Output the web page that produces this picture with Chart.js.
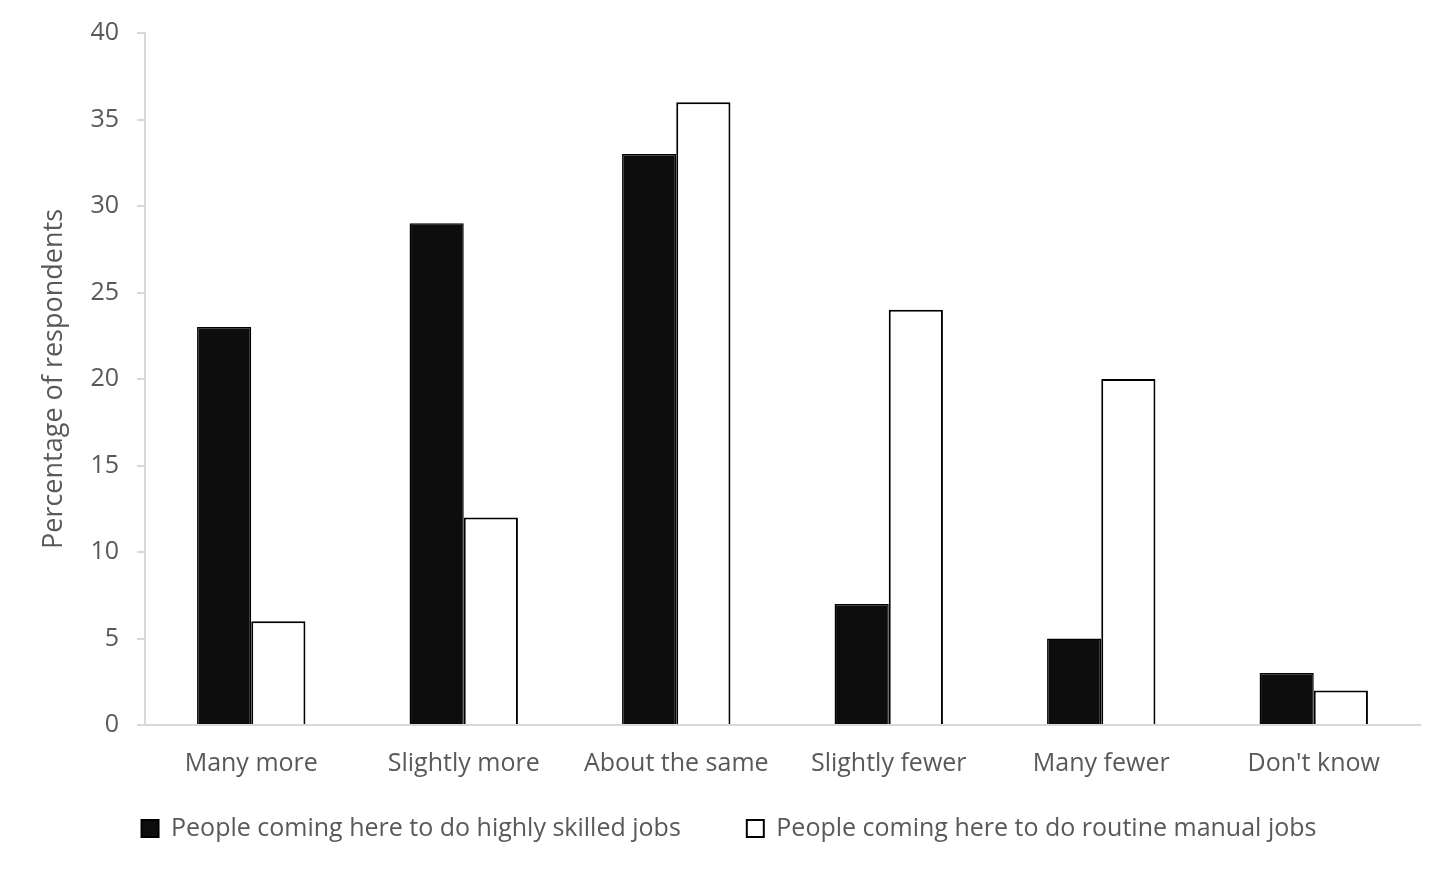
<!DOCTYPE html>
<html>
<head>
<meta charset="utf-8">
<script src="https://cdn.jsdelivr.net/npm/chart.js@4/dist/chart.umd.min.js"></script>
<style>
  html, body { margin: 0; padding: 0; background: #fff; }
  #wrap { width: 1456px; height: 873px; }
</style>
</head>
<body>
<div id="wrap"><canvas id="chart" width="1456" height="873"></canvas></div>
<script>
const categories = ['Many more', 'Slightly more', 'About the same', 'Slightly fewer', 'Many fewer', "Don't know"];
const skilledJobs = [23, 29, 33, 7, 5, 3];
const manualJobs = [6, 12, 36, 24, 20, 2];
const yTicks = [0, 5, 10, 15, 20, 25, 30, 35, 40];

const FONT = "'Open Sans', sans-serif";
const TEXT = '#595959';
const AXIS = '#d9d9d9';
const LEGEND_LIFT = 45;

// legend padding also sets the gap between items; keep that gap but hand the
// extra vertical room back to the plot (legend clips to its box, so grow it back after layout)
const legendLift = {
  id: 'legendLift',
  beforeLayout(chart) {
    const lg = chart.legend;
    if (lg && !lg._wrapped) {
      const fit = lg.fit;
      lg.fit = function () { fit.call(this); this.height -= LEGEND_LIFT; };
      lg._wrapped = true;
    }
  },
  afterLayout(chart) {
    const lg = chart.legend;
    if (lg) { lg.top -= LEGEND_LIFT; lg.height += LEGEND_LIFT; }
  }
};

new Chart(document.getElementById('chart'), {
  type: 'bar',
  data: {
    labels: categories,
    datasets: [
      { label: 'People coming here to do highly skilled jobs', data: skilledJobs,
        backgroundColor: '#0d0d0d', borderColor: '#000', borderWidth: 1.5 },
      { label: 'People coming here to do routine manual jobs', data: manualJobs,
        backgroundColor: '#fff', borderColor: '#000', borderWidth: 2 }
    ]
  },
  plugins: [legendLift],
  options: {
    responsive: false,
    animation: false,
    layout: { padding: { left: 38, right: 36, top: 33, bottom: 22 } },
    datasets: { bar: { categoryPercentage: 0.51, barPercentage: 1 } },
    plugins: {
      tooltip: { enabled: false },
      legend: {
        position: 'bottom',
        labels: {
          color: TEXT, font: { family: FONT, size: 25 },
          boxWidth: 17, boxHeight: 17, padding: 66,
          generateLabels(chart) {
            return chart.data.datasets.map((ds, i) => ({
              text: ds.label, fillStyle: ds.backgroundColor, strokeStyle: '#000',
              lineWidth: 2, fontColor: TEXT, datasetIndex: i, hidden: false
            }));
          }
        }
      }
    },
    scales: {
      x: {
        grid: { display: false },
        border: { display: true, color: AXIS, width: 2 },
        ticks: { color: TEXT, font: { family: FONT, size: 25 }, padding: 16 }
      },
      y: {
        min: 0, max: 40,
        afterBuildTicks(scale) { scale.ticks = yTicks.map(v => ({ value: v })); },
        grid: { drawOnChartArea: false, drawTicks: true, tickLength: 8, color: AXIS, lineWidth: 2 },
        border: { display: true, color: AXIS, width: 2 },
        ticks: { color: TEXT, font: { family: FONT, size: 25 }, padding: 18 },
        title: { display: true, text: 'Percentage of respondents', color: TEXT,
                 font: { family: FONT, size: 27 }, padding: { top: 0, bottom: 2 } }
      }
    }
  }
});
</script>
</body>
</html>
